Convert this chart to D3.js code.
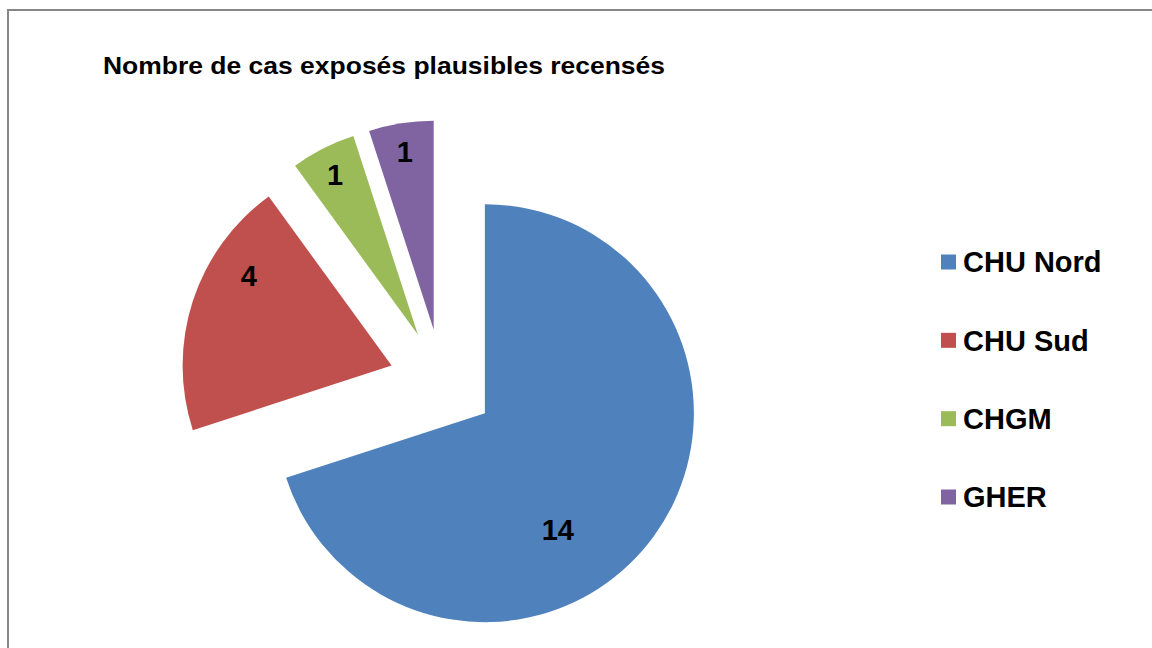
<!DOCTYPE html>
<html>
<head>
<meta charset="utf-8">
<script src="https://cdn.jsdelivr.net/npm/d3@7"></script>
<style>
  html, body { margin: 0; padding: 0; background: #fff; }
  svg { display: block; font-family: "Liberation Sans", Arial, sans-serif; }
</style>
</head>
<body>
<svg id="chart" width="1152" height="648"></svg>
<script>
// ---- data ----
const title = "Nombre de cas exposés plausibles recensés";
const categories = ["CHU Nord", "CHU Sud", "CHGM", "GHER"];
const values = [14, 4, 1, 1];
const colors = ["#4F81BD", "#C0504D", "#9BBB59", "#8064A2"];

// ---- layout ----
const W = 1152, H = 648;
const cx = 442, cy = 382, R = 209, explode = 53;
// label placement relative to each exploded slice apex (degrees clockwise from 12 o'clock, distance px)
const labelLayout = [
  { angle: 147.8, dist: 137 },
  { angle: 302.4, dist: 169 },
  { angle: 332.6, dist: 180 },
  { angle: 350.8, dist: 180 }
];

const svg = d3.select("#chart");

// chart border
svg.append("rect")
  .attr("x", 8).attr("y", 10)
  .attr("width", W + 20).attr("height", H + 20)
  .attr("fill", "#fff")
  .attr("stroke", "#868686").attr("stroke-width", 2);

// title
svg.append("text")
  .attr("x", 103).attr("y", 74)
  .attr("font-size", 24).attr("font-weight", "bold")
  .attr("fill", "#000")
  .attr("textLength", 562).attr("lengthAdjust", "spacingAndGlyphs")
  .text(title);

const data = categories.map((c, i) => ({ name: c, value: values[i], color: colors[i], i }));
const pie = d3.pie().value(d => d.value).sort(null);
const arcs = pie(data);
const arc = d3.arc().innerRadius(0).outerRadius(R);

const g = svg.append("g").attr("transform", `translate(${cx},${cy})`);

const slices = g.selectAll("g.slice").data(arcs).join("g")
  .attr("class", "slice")
  .attr("transform", d => {
    const mid = (d.startAngle + d.endAngle) / 2;
    return `translate(${explode * Math.sin(mid)},${-explode * Math.cos(mid)})`;
  });

slices.append("path")
  .attr("d", arc)
  .attr("fill", d => d.data.color);

slices.append("text")
  .attr("x", d => {
    const L = labelLayout[d.index];
    return L.dist * Math.sin(L.angle * Math.PI / 180);
  })
  .attr("y", d => {
    const L = labelLayout[d.index];
    return -L.dist * Math.cos(L.angle * Math.PI / 180);
  })
  .attr("dy", "0.36em")
  .attr("text-anchor", "middle")
  .attr("font-size", 29).attr("font-weight", "bold")
  .attr("fill", "#000")
  .text(d => d.data.value);

// legend
const legendY = d3.scalePoint().domain(categories).range([262, 497]);
const lg = svg.append("g");
const items = lg.selectAll("g").data(data).join("g")
  .attr("transform", d => `translate(941,${legendY(d.name)})`);
items.append("rect")
  .attr("x", 0).attr("y", -7.5)
  .attr("width", 15).attr("height", 15)
  .attr("fill", d => d.color);
items.append("text")
  .attr("x", 22).attr("y", 0).attr("dy", "0.36em")
  .attr("font-size", 29).attr("font-weight", "bold")
  .attr("fill", "#000")
  .text(d => d.name);
</script>
</body>
</html>
